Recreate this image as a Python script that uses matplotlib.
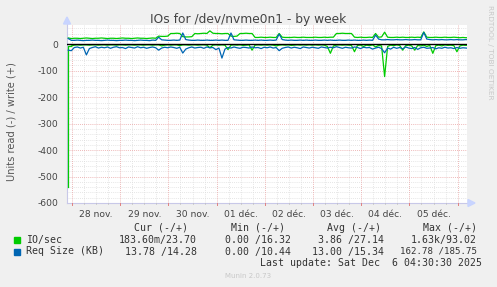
import numpy as np
import matplotlib
matplotlib.use("Agg")
import matplotlib.pyplot as plt
from matplotlib.ticker import FixedLocator

# ---------------- data ----------------
day_labels = ["28 nov.", "29 nov.", "30 nov.", "01 déc.", "02 déc.", "03 déc.", "04 déc.", "05 déc."]
y_ticks = [0, -100, -200, -300, -400, -500, -600]

# IO/sec write (+)
io_write = ([24,22,23,23,22,23,24,23,22,23,23,24,23,22,23,23,22,23,24,23,23,22,23,24,23,23,22,23,24,23]
            + [31,30,30,31] + [41,41,42,41] + [29,28,28,29] + [41,40,41,42,41] + [51]
            + [42,41,41,40,41,41] + [31,30,31] + [41,41,42,41,41] + [26,26,27,26,26,27,26,26] + [41]
            + [27,26,26,26,27,26,26,27,26,26,26,27,26,26,27,26] + [27,27] + [41,41,42,41,41,41]
            + [27,26,27,26,26,27,26] + [41] + [27,28] + [46]
            + [27,26,26,27,26,27,26,26,27,26,27,26] + [47]
            + [27,26,26,27,26,26,27,26,26,27,26,25,26,25,25])
# IO/sec read (-)
io_read = ([-540]
           + [-6,-3,-2,-3,-2,-2,-3,-2,-2,-3,-2,-2,-3,-2,-2,-3,-2,-2,-3,-2,-2,-3,-2,-2,-3,-2,-2,-3,-2,-2,-6,-3,-2,-3,-2,-2,-5,-2,-2,-3,-2,-2,-3,-2,-2,-3]
           + [-13] + [-3,-2,-3,-2,-3] + [-20] + [-3,-2,-3,-2,-4,-3,-2] + [-22]
           + [-3,-2,-3,-2,-3,-2,-3,-6,-3,-2,-3,-2,-4,-3,-2,-3,-2,-3,-2,-3,-2,-3,-2,-3,-8]
           + [-34] + [-6,-3,-2,-3,-2,-3,-4] + [-28] + [-4,-3,-8,-3,-5,-2,-10,-4,-6] + [-122]
           + [-8,-3,-5,-2,-4] + [-22] + [-5,-3,-6] + [-22] + [-4,-6,-3,-8,-4] + [-34]
           + [-5,-3,-6,-2,-4,-3,-5] + [-28] + [-6,-3,-4,-2])
# Req Size write (+)
req_write = ([22,15,15,16,15,14,15,15,16,15,15,14,15,16,15,15,14,15,15,16,15,15,14,15,16,15,15,14,16,15]
             + [27] + [17,16,15,15,16,15,16]
             + [43] + [18,16,15,15,16,15,15,16,15,15,16,15,16,15,15]
             + [43] + [17,16,15,15,16,15,15,16,15,16,15,15,16,15,16]
             + [39] + [18,16,15,16,15,15,16,15,16,15,15,16,15,15,16,15,16,15,15,16,15,15,16,15,16,15,15,16,15,16,15]
             + [35] + [20,17,17,18,17,17,18,17,17,18,17,17,18,17,17]
             + [45] + [20,18,17,18,17,18,17,17,18,17,18,17,17,18,17])
# Req Size read (-)
req_read = ([-22,-24] + [-12,-10,-14,-11] + [-40] + [-16]
            + [-12,-9,-14,-11,-13,-10,-15,-11,-9,-13,-12,-16,-10,-12,-14,-9,-13,-11,-15,-12,-10,-13]
            + [-22,-14,-11,-13,-10,-12,-15,-11]
            + [-33] + [-18,-13,-10,-14,-12,-11,-15,-10,-13,-12,-20,-14]
            + [-52] + [-18,-12,-14,-10,-13,-15,-11,-12,-14,-10,-13,-12,-16,-11,-13,-10,-14,-12]
            + [-24] + [-15,-12,-10,-14,-11,-13,-16,-10,-12,-14,-11,-13,-15,-10,-12,-14,-11,-13,-9,-12,-15,-11,-13,-14,-10,-12,-16,-11,-13,-12,-18,-14,-11,-16]
            + [-32] + [-14,-18,-11,-15,-12,-17,-10,-14,-16,-12,-19,-13,-11,-15,-14,-12,-17,-13,-15,-11,-14,-13,-16,-12,-15,-13,-14,-15])

legend_names = ["IO/sec", "Req Size (KB)"]
cur_vals = ["183.60m/23.70", "13.78 /14.28"]
min_vals = ["0.00 /16.32", "0.00 /10.44"]
avg_vals = ["3.86 /27.14", "13.00 /15.34"]
max_vals = ["1.63k/93.02", "162.78 /185.75"]
colors = ["#00CC00", "#0066B3"]

# time axis: days since 28 nov 00:00, 1.5 h steps starting 27 nov ~22:10
t = -0.077 + np.arange(len(io_write)) * 0.0625

# ---------------- figure ----------------
W, H = 497, 287
fig = plt.figure(figsize=(W / 100, H / 100), dpi=100, facecolor="#F0F0F0")
L, R, T, B = 67, 467, 24.5, 203
ax = fig.add_axes([L / W, 1 - B / H, (R - L) / W, (B - T) / H])
ax.set_facecolor("white")
xmin, xmax = -0.104, 8.195
ymin, ymax = -600, 75
ax.set_xlim(xmin, xmax)
ax.set_ylim(ymin, ymax)
for s in ax.spines.values():
    s.set_visible(False)

dot = (0, (1, 1.5))
# minor grid
for x in np.arange(0, 8.3, 0.25):
    if abs(x - round(x)) > 1e-6:
        ax.axvline(x, color="#DDDDDD", lw=0.6, ls=dot, zorder=1)
for y in np.arange(-580, 75, 20):
    if y % 100 != 0:
        ax.axhline(y, color="#DDDDDD", lw=0.6, ls=dot, zorder=1)
# major grid
for x in range(0, 9):
    ax.axvline(x, color="#E8A0A0", lw=0.6, ls=dot, zorder=1.5)
for y in range(-500, 75, 100):
    ax.axhline(y, color="#E8A0A0", lw=0.6, ls=dot, zorder=1.5)

# axes lines
ax.plot([xmin, xmax], [ymin, ymin], color="#C8C8E8", lw=0.8, clip_on=False, zorder=2)
ax.plot([xmin, xmin], [ymin, ymax], color="#C8C8E8", lw=0.8, clip_on=False, zorder=2)

# first read sample: drawn as a vertical drop like rrdtool does at the graph start
ax.plot(t[:2], io_read[:2], color=colors[0], lw=0.9, zorder=3, drawstyle="steps-pre")
ax.plot(t[1:], io_read[1:], color=colors[0], lw=0.9, zorder=3)
ax.plot(t, io_write, color=colors[0], lw=0.9, zorder=3)
ax.plot(t, req_read, color=colors[1], lw=0.9, zorder=4)
ax.plot(t, req_write, color=colors[1], lw=0.9, zorder=4)
ax.axhline(0, color="black", lw=1.0, zorder=5)

fig.patches.append(plt.Polygon([[(R + 1) / W, 1 - (B - 3.5) / H], [(R + 8) / W, 1 - B / H], [(R + 1) / W, 1 - (B + 3.5) / H]],
                               closed=True, transform=fig.transFigure, color="#C8D4FF", zorder=10))
fig.patches.append(plt.Polygon([[(L - 3.5) / W, 1 - (T - 0.5) / H], [L / W, 1 - (T - 7.5) / H], [(L + 3.5) / W, 1 - (T - 0.5) / H]],
                               closed=True, transform=fig.transFigure, color="#C8D4FF", zorder=10))

# ticks
ax.xaxis.set_major_locator(FixedLocator([k + 0.5 for k in range(8)]))
ax.set_xticklabels(day_labels)
ax.tick_params(axis="x", length=0, pad=5, labelsize=6.6, labelcolor="#444444")
ax.yaxis.set_major_locator(FixedLocator(y_ticks))
ax.set_yticklabels([str(v) for v in y_ticks])
ax.tick_params(axis="y", length=0, pad=6, labelsize=6.6, labelcolor="#444444")
for x in range(0, 9):
    ax.plot([x, x], [ymin, ymin - 6], color="#E08080", lw=0.7, clip_on=False, zorder=6)
for x in np.arange(0.25, 8.2, 0.25):
    if abs(x - round(x)) > 1e-6:
        ax.plot([x, x], [ymin, ymin - 4], color="#BBBBBB", lw=0.5, clip_on=False, zorder=6)

def fx(x):
    return x / W

def fy(y):
    return 1 - y / H

fig.text(fx(248), fy(20), "IOs for /dev/nvme0n1 - by week", ha="center", va="center",
         fontsize=8.8, color="#444444")
fig.text(fx(12), fy(122), "Units read (-) / write (+)", rotation=90, ha="center", va="center",
         fontsize=7.1, color="#555555")
fig.text(fx(490), fy(5), "RRDTOOL / TOBI OETIKER", rotation=270, ha="center", va="top",
         fontsize=5.3, color="#C8C8C8")

mono = "DejaVu Sans Mono"
fs = 7.1
tc = "#333333"
fig.text(fx(134), fy(228), "Cur (-/+)", family=mono, fontsize=fs, color=tc, va="center", ha="left")
fig.text(fx(231), fy(228), "Min (-/+)", family=mono, fontsize=fs, color=tc, va="center", ha="left")
fig.text(fx(327), fy(228), "Avg (-/+)", family=mono, fontsize=fs, color=tc, va="center", ha="left")
fig.text(fx(423), fy(228), "Max (-/+)", family=mono, fontsize=fs, color=tc, va="center", ha="left")
right_edges = [197, 291, 384, 477]
for i, yy in enumerate([240, 251.5]):
    fig.patches.append(plt.Rectangle((fx(14), fy(yy + 3)), 6 / W, 6 / H, transform=fig.transFigure,
                                     color=colors[i], zorder=10))
    fig.text(fx(26.5), fy(yy), legend_names[i], family=mono, fontsize=fs, color=tc, va="center", ha="left")
    vals = [cur_vals[i], min_vals[i], avg_vals[i], max_vals[i]]
    for v, re in zip(vals, right_edges):
        # an over-long field is squeezed into 13 character cells, as in the reference
        f = fs if len(v) <= 13 else fs * 13 / len(v)
        fig.text(fx(re), fy(yy), v, family=mono, fontsize=f, color=tc, va="center", ha="right")
fig.text(fx(482.5), fy(263), "Last update: Sat Dec  6 04:30:30 2025", family=mono, fontsize=fs,
         color=tc, va="center", ha="right")
fig.text(fx(248), fy(276), "Munin 2.0.73", fontsize=5.0, color="#C8C8C8", va="center", ha="center")

fig.savefig("out.png", dpi=100, facecolor=fig.get_facecolor())
